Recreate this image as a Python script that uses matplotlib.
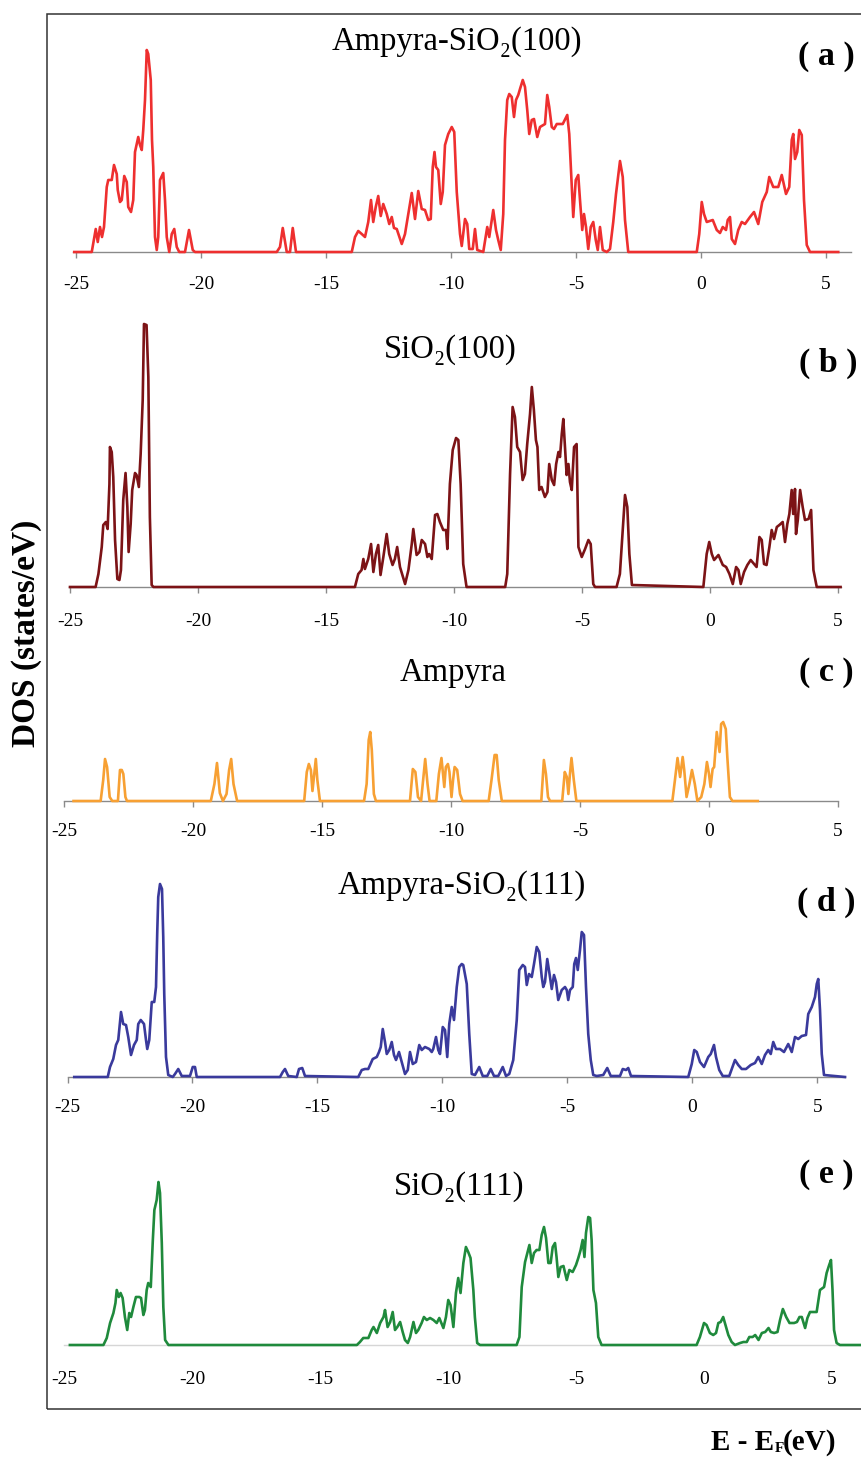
import matplotlib
matplotlib.use("Agg")
import matplotlib.pyplot as plt
from matplotlib.patches import Rectangle

plt.rcParams['font.family'] = ['Liberation Serif', 'DejaVu Serif']

# DOS values are in arbitrary units (no y scale in the original)
ticks = [-25, -20, -15, -10, -5, 0, 5]

# (a) Ampyra-SiO2(100)
e_a = [-25.07, -24.37, -24.21, -24.13, -24.04, -23.96, -23.88, -23.77, -23.71, -23.57, -23.48, -23.37,
       -23.33, -23.24, -23.17, -23.07, -22.97, -22.91, -22.80, -22.71, -22.64, -22.51, -22.44, -22.37,
       -22.31, -22.24, -22.17, -22.11, -22.01, -21.96, -21.91, -21.84, -21.77, -21.71, -21.64, -21.51,
       -21.44, -21.37, -21.27, -21.17, -21.07, -20.97, -20.87, -20.64, -20.48, -20.33, -20.24, -16.97,
       -16.84, -16.73, -16.57, -16.44, -16.33, -16.20, -13.97, -13.84, -13.71, -13.57, -13.44, -13.31,
       -13.20, -13.11, -13.01, -12.91, -12.81, -12.71, -12.57, -12.47, -12.37, -12.28, -12.17, -11.97,
       -11.84, -11.71, -11.57, -11.44, -11.31, -11.17, -11.04, -10.91, -10.81, -10.73, -10.66, -10.60,
       -10.51, -10.41, -10.33, -10.24, -10.11, -9.97, -9.87, -9.77, -9.64, -9.57, -9.44, -9.35, -9.27,
       -9.13, -9.04, -8.95, -8.71, -8.55, -8.47, -8.31, -8.20, -8.11, -8.01, -7.91, -7.84, -7.75, -7.67,
       -7.57, -7.48, -7.40, -7.31, -7.24, -7.13, -7.04, -6.95, -6.87, -6.77, -6.68, -6.60, -6.55, -6.44,
       -6.24, -6.15, -6.07, -5.97, -5.88, -5.77, -5.53, -5.35, -5.27, -5.17, -5.11, -5.01, -4.91, -4.84,
       -4.75, -4.68, -4.60, -4.51, -4.41, -4.31, -4.21, -4.13, -4.04, -3.93, -3.77, -3.64, -3.51, -3.40,
       -3.24, -3.13, -3.04, -2.91, -0.17, -0.07, 0.03, 0.12, 0.23, 0.47, 0.63, 0.76, 0.87, 1.00, 1.07,
       1.16, 1.23, 1.36, 1.49, 1.63, 1.76, 1.96, 2.12, 2.29, 2.45, 2.63, 2.73, 2.89, 3.09, 3.23, 3.40,
       3.53, 3.63, 3.69, 3.76, 3.85, 3.93, 4.03, 4.12, 4.23, 4.36, 5.49]
dos_a = [0, 0, 23, 10, 25, 15, 25, 65, 72, 72, 87, 78,
         62, 50, 52, 76, 70, 45, 40, 52, 100, 115, 107, 102,
         122, 152, 202, 198, 172, 112, 85, 15, 2, 15, 72, 79,
         52, 15, 0, 18, 23, 5, 0, 0, 22, 2, 0, 0,
         5, 24, 0, 0, 24, 0, 0, 15, 21, 18, 15, 30,
         52, 30, 45, 56, 36, 48, 38, 28, 35, 24, 23, 8,
         18, 38, 59, 33, 61, 43, 42, 32, 33, 85, 100, 85,
         82, 48, 60, 107, 118, 125, 120, 60, 18, 6, 33, 28, 3,
         3, 23, 2, 0, 25, 15, 42, 22, 12, 2, 38, 112, 152, 158,
         155, 135, 152, 157, 163, 172, 165, 142, 118, 132, 133, 122, 115, 125,
         128, 157, 145, 125, 123, 128, 128, 137, 118, 65, 35, 72, 77, 52,
         22, 38, 25, 3, 25, 30, 12, 2, 25, 2, 0, 3, 30, 58,
         91, 75, 32, 0, 0, 18, 50, 38, 30, 32, 22, 19, 25, 22, 32,
         35, 13, 8, 22, 30, 28, 35, 40, 28, 50, 60, 75, 65, 65, 77, 58,
         65, 112, 118, 93, 100, 122, 117, 52, 7, 0, 0]

# (b) SiO2(100)
e_b = [-25.0, -24.0, -23.89, -23.76, -23.70, -23.60, -23.53, -23.46, -23.44, -23.37, -23.31, -23.24,
       -23.15, -23.07, -23.01, -22.92, -22.83, -22.76, -22.71, -22.63, -22.57, -22.46, -22.40, -22.31,
       -22.24, -22.16, -22.11, -22.01, -21.94, -21.88, -21.81, -21.74, -13.87, -13.74, -13.61, -13.54,
       -13.48, -13.35, -13.24, -13.15, -13.05, -12.96, -12.87, -12.76, -12.63, -12.53, -12.40, -12.31,
       -12.22, -12.11, -11.91, -11.78, -11.65, -11.59, -11.46, -11.35, -11.26, -11.13, -11.04, -10.97,
       -10.87, -10.74, -10.65, -10.55, -10.42, -10.31, -10.26, -10.16, -10.05, -9.92, -9.83, -9.74,
       -9.64, -9.51, -8.0, -7.92, -7.81, -7.71, -7.62, -7.53, -7.42, -7.32, -7.23, -7.14, -7.03, -6.96,
       -6.88, -6.80, -6.74, -6.67, -6.58, -6.45, -6.35, -6.28, -6.18, -6.09, -6.01, -5.92, -5.86, -5.79,
       -5.73, -5.66, -5.60, -5.53, -5.47, -5.40, -5.31, -5.21, -5.14, -5.01, -4.88, -4.75, -4.66, -4.56,
       -4.49, -3.65, -3.52, -3.41, -3.32, -3.23, -3.15, -3.05, -0.26, -0.13, -0.03, 0.07, 0.16, 0.33,
       0.50, 0.63, 0.76, 0.89, 1.02, 1.11, 1.20, 1.33, 1.46, 1.59, 1.72, 1.82, 1.93, 2.02, 2.11, 2.21,
       2.32, 2.41, 2.50, 2.61, 2.71, 2.84, 2.93, 3.02, 3.10, 3.19, 3.25, 3.32, 3.36, 3.43, 3.52, 3.62,
       3.71, 3.85, 3.95, 4.04, 4.17, 5.1]
dos_b = [0, 0, 13, 40, 62, 65, 58, 103, 140, 135, 110, 47,
         8, 7, 17, 87, 114, 80, 35, 63, 97, 114, 112, 100,
         133, 187, 263, 262, 210, 70, 2, 0, 0, 13, 17, 28,
         18, 28, 43, 15, 33, 42, 12, 30, 53, 33, 22, 28,
         40, 20, 3, 17, 43, 58, 32, 35, 47, 43, 30, 33,
         28, 72, 73, 65, 57, 57, 38, 103, 137, 149, 147, 103,
         23, 0, 0, 13, 113, 180, 170, 140, 135, 107, 113, 143, 173, 200,
         177, 147, 140, 97, 100, 90, 95, 123, 107, 102, 123, 135, 130, 153,
         168, 137, 112, 123, 105, 97, 140, 143, 40, 30, 38, 47, 43, 3,
         0, 0, 13, 57, 92, 80, 33, 2, 0, 33, 45, 33, 27, 32,
         22, 20, 13, 3, 20, 17, 3, 15, 22, 27, 23, 20, 50, 47, 23, 22,
         40, 57, 48, 60, 62, 65, 45, 63, 73, 97, 73, 98, 53, 67, 97, 80,
         67, 68, 77, 17, 0, 0]

# (c) Ampyra
e_c = [-24.63, -23.58, -23.48, -23.41, -23.33, -23.23, -23.13, -22.91, -22.83, -22.76, -22.70, -22.62,
       -22.56, -19.31, -19.17, -19.07, -18.96, -18.84, -18.70, -18.60, -18.52, -18.43, -18.29, -15.69,
       -15.59, -15.51, -15.43, -15.37, -15.30, -15.24, -15.18, -15.08, -13.37, -13.27, -13.19, -13.13,
       -13.07, -12.99, -12.91, -11.59, -11.48, -11.38, -11.28, -11.16, -11.08, -11.0, -10.91, -10.83,
       -10.57, -10.47, -10.37, -10.26, -10.20, -10.12, -10.06, -9.98, -9.92, -9.86, -9.76, -9.65, -9.55,
       -8.54, -8.43, -8.31, -8.23, -8.15, -8.03, -6.50, -6.40, -6.32, -6.24, -6.16, -5.69, -5.59, -5.51,
       -5.45, -5.39, -5.33, -5.24, -5.14, -1.42, -1.32, -1.22, -1.12, -1.02, -0.96, -0.87, -0.76, -0.66,
       -0.55, -0.45, -0.30, -0.18, -0.08, 0.0, 0.06, 0.14, 0.20, 0.30, 0.41, 0.47, 0.55, 0.65, 0.71,
       0.81, 0.91, 1.89]
dos_c = [0, 0, 21, 42, 34, 4, 0, 0, 31, 31, 27, 4,
         0, 0, 17, 38, 8, 0, 7, 31, 42, 17, 0, 0,
         29, 37, 31, 10, 27, 42, 21, 0, 0, 17, 61, 69,
         51, 7, 0, 0, 32, 29, 4, 0, 21, 42, 17, 0,
         0, 27, 43, 14, 34, 37, 29, 4, 21, 34, 31, 7, 0,
         0, 21, 46, 46, 21, 0, 0, 41, 27, 4, 0, 0, 29, 24,
         7, 27, 43, 21, 0, 0, 21, 43, 24, 44, 31, 4, 17, 31,
         17, 0, 4, 17, 39, 27, 14, 32, 34, 69, 49, 77, 79, 72, 44,
         4, 0, 0]

# (d) Ampyra-SiO2(111)
e_d = [-24.73, -23.39, -23.30, -23.17, -23.06, -22.97, -22.86, -22.77, -22.66, -22.57, -22.46, -22.34,
       -22.23, -22.17, -22.07, -21.94, -21.86, -21.81, -21.73, -21.63, -21.53, -21.46, -21.41, -21.37,
       -21.30, -21.22, -21.17, -21.13, -21.06, -20.97, -20.79, -20.70, -20.57, -20.43, -20.10, -19.99,
       -19.90, -19.83, -16.5, -16.39, -16.30, -16.17, -15.83, -15.74, -15.61, -15.50, -13.37, -13.23,
       -13.10, -12.97, -12.79, -12.63, -12.54, -12.47, -12.39, -12.30, -12.23, -12.13, -12.03, -11.94,
       -11.86, -11.74, -11.63, -11.50, -11.39, -11.30, -11.19, -11.06, -10.93, -10.83, -10.70, -10.53,
       -10.43, -10.37, -10.26, -10.17, -10.10, -9.99, -9.90, -9.81, -9.73, -9.63, -9.54, -9.43, -9.33,
       -9.23, -9.17, -9.03, -8.93, -8.83, -8.70, -8.53, -8.39, -8.21, -8.07, -7.94, -7.77, -7.59, -7.46,
       -7.33, -7.17, -7.03, -6.93, -6.79, -6.70, -6.63, -6.54, -6.43, -6.34, -6.23, -6.13, -6.03, -5.97,
       -5.90, -5.81, -5.73, -5.63, -5.54, -5.46, -5.37, -5.23, -5.10, -5.03, -4.97, -4.90, -4.79, -4.73,
       -4.66, -4.59, -4.50, -4.43, -4.34, -4.26, -4.17, -4.07, -3.97, -3.83, -3.57, -3.41, -3.27, -2.90,
       -2.79, -2.66, -2.57, -2.46, -0.17, -0.03, 0.07, 0.17, 0.30, 0.46, 0.63, 0.73, 0.86, 0.94, 1.07,
       1.21, 1.47, 1.57, 1.70, 1.83, 1.97, 2.14, 2.33, 2.50, 2.63, 2.77, 2.90, 3.03, 3.13, 3.23, 3.34,
       3.50, 3.66, 3.83, 3.97, 4.10, 4.23, 4.37, 4.54, 4.63, 4.77, 4.90, 4.97, 5.03, 5.10, 5.17, 5.26,
       6.10]
dos_d = [0, 0, 10, 18, 32, 37, 65, 53, 52, 40, 22, 32,
         37, 53, 57, 53, 37, 28, 37, 75, 75, 90, 145, 180,
         193, 188, 140, 83, 20, 2, 0, 3, 8, 1, 1, 10,
         10, 0, 0, 5, 8, 1, 0, 8, 9, 1, 0, 7,
         8, 8, 18, 20, 25, 30, 48, 35, 23, 27, 35, 22,
         17, 25, 15, 3, 7, 25, 13, 15, 32, 27, 30, 28,
         25, 28, 40, 27, 23, 50, 47, 20, 53, 70, 57, 90, 110,
         113, 112, 93, 43, 3, 2, 10, 1, 1, 8, 1, 1, 10, 1,
         3, 17, 57, 107, 112, 110, 92, 103, 100, 113, 130, 125, 100, 90,
         95, 118, 105, 88, 102, 95, 77, 87, 90, 87, 77, 87, 90, 113,
         119, 107, 127, 145, 142, 90, 43, 17, 2, 1, 2, 9, 1, 1,
         8, 7, 9, 1, 0, 13, 27, 25, 15, 10, 20, 23, 32, 20, 7,
         1, 1, 8, 17, 12, 8, 8, 12, 14, 20, 13, 22, 27, 23, 35, 28,
         28, 25, 33, 25, 40, 38, 41, 42, 63, 70, 80, 93, 98, 67, 23, 2,
         0]

# (e) SiO2(111)
e_e = [-24.77, -23.46, -23.33, -23.20, -23.07, -22.99, -22.94, -22.86, -22.79, -22.71, -22.62, -22.53,
       -22.45, -22.38, -22.29, -22.19, -22.06, -21.99, -21.90, -21.84, -21.77, -21.71, -21.61, -21.53,
       -21.47, -21.38, -21.31, -21.25, -21.18, -21.12, -21.05, -20.92, -13.56, -13.44, -13.31, -13.11,
       -12.98, -12.91, -12.78, -12.65, -12.52, -12.46, -12.36, -12.26, -12.16, -12.07, -11.98, -11.87,
       -11.77, -11.68, -11.57, -11.48, -11.35, -11.25, -11.16, -11.03, -10.94, -10.83, -10.70, -10.57,
       -10.44, -10.34, -10.18, -10.08, -9.99, -9.90, -9.79, -9.69, -9.60, -9.51, -9.40, -9.30, -9.21,
       -9.12, -9.01, -8.95, -8.86, -8.75, -7.32, -7.21, -7.12, -6.99, -6.90, -6.82, -6.73, -6.64, -6.54,
       -6.43, -6.34, -6.25, -6.17, -6.08, -5.99, -5.91, -5.82, -5.76, -5.69, -5.60, -5.49, -5.36, -5.26,
       -5.13, -5.00, -4.91, -4.82, -4.74, -4.67, -4.61, -4.52, -4.45, -4.39, -4.32, -4.22, -4.13, -4.0,
       -0.29, -0.16, 0.0, 0.10, 0.23, 0.36, 0.47, 0.56, 0.65, 0.75, 0.86, 0.95, 1.08, 1.21, 1.41, 1.54,
       1.67, 1.77, 1.90, 2.00, 2.13, 2.26, 2.39, 2.52, 2.61, 2.74, 2.87, 2.97, 3.08, 3.21, 3.34, 3.52,
       3.63, 3.73, 3.82, 3.95, 4.04, 4.14, 4.40, 4.53, 4.69, 4.79, 4.89, 4.96, 5.02, 5.08, 5.18, 5.31,
       6.17]
dos_e = [0, 0, 7, 22, 32, 42, 55, 48, 52, 47, 28, 15,
         32, 28, 38, 48, 48, 47, 30, 35, 55, 62, 58, 105,
         135, 145, 163, 152, 102, 38, 5, 0, 0, 3, 7, 7,
         15, 18, 12, 22, 28, 35, 18, 23, 33, 15, 18, 23,
         13, 5, 2, 8, 23, 12, 15, 22, 28, 25, 27, 25,
         22, 27, 17, 28, 45, 40, 18, 52, 67, 52, 82, 98, 93,
         87, 55, 28, 2, 0, 0, 8, 58, 83, 92, 100, 82, 92, 95,
         95, 110, 118, 107, 82, 82, 98, 102, 88, 68, 78, 79, 65, 75,
         73, 80, 87, 95, 105, 88, 112, 128, 127, 105, 55, 42, 8, 0,
         0, 8, 22, 20, 12, 10, 12, 22, 23, 28, 18, 10, 3, 0, 2, 3,
         3, 8, 8, 10, 5, 12, 13, 17, 13, 12, 13, 25, 36, 28, 22, 22,
         23, 28, 28, 17, 27, 33, 33, 55, 58, 72, 80, 85, 55, 15, 2, 0,
         0]

titles = ['Ampyra-SiO\u2082(100)', 'SiO\u2082(100)', 'Ampyra', 'Ampyra-SiO\u2082(111)', 'SiO\u2082(111)']
tags = ['( a )', '( b )', '( c )', '( d )', '( e )']
colors = ['#ee2f2f', '#7c1316', '#f7a033', '#3a3a9c', '#1f8a3c']

W, H = 862, 1458
fig = plt.figure(figsize=(W / 100, H / 100), dpi=100)

# panel placement in pixels: zero position, px per eV, baseline, x range, title pos, tag pos, label pad
layout = [
    (701.0, 25.0, 252, (-25.1, 6.0), (457, 42), (826, 56), 13.5),
    (710.0, 25.6, 587, (-25.05, 5.1), (450, 350), (828, 363), 14.5),
    (709.0, 25.8, 801, (-25.0, 5.0), (453, 673), (826, 672), 12.0),
    (692.5, 25.0, 1077, (-25.0, 6.1), (462, 886), (826, 902), 12.0),
    (704.0, 25.6, 1345, (-25.0, 6.2), (459, 1187), (826, 1175), 19.0),
]
series = [(e_a, dos_a), (e_b, dos_b), (e_c, dos_c), (e_d, dos_d), (e_e, dos_e)]

for i, ((x0, ppe, base, (xmin, xmax), tpos, gpos, pad), (e, d)) in enumerate(zip(layout, series)):
    hpx = 280
    ax = fig.add_axes([(x0 + ppe * xmin) / W, 1 - base / H, ppe * (xmax - xmin) / W, hpx / H])
    ax.patch.set_alpha(0)
    ax.plot(e, d, color=colors[i], lw=1.9, solid_joinstyle='round', clip_on=False, zorder=3)
    ax.set_xlim(xmin, xmax)
    ax.set_ylim(0, hpx)
    for s in ['top', 'left', 'right']:
        ax.spines[s].set_visible(False)
    last = i == 4
    ax.spines['bottom'].set_color('#d6d6d6' if last else '#8a8a8a')
    ax.spines['bottom'].set_linewidth(1.0)
    ax.set_yticks([])
    ax.set_xticks(ticks)
    ax.set_xticklabels([str(t) for t in ticks])
    ax.tick_params(axis='x', direction='out', length=0 if last else 4, width=1.0,
                   color='#8a8a8a', labelsize=14, pad=pad)
    fig.text(tpos[0] / W, 1 - tpos[1] / H, titles[i], fontsize=23.5, ha='center', va='center')
    fig.text(gpos[0] / W, 1 - gpos[1] / H, tags[i], fontsize=24.5, fontweight='bold',
             ha='center', va='center')

# outer frame
fig.add_artist(Rectangle((47 / W, 1 - 1409 / H), 830 / W, 1395 / H, transform=fig.transFigure,
                         fill=False, edgecolor='#333333', lw=1.1, clip_on=False))

fig.text(27 / W, 1 - 633 / H, 'DOS (states/eV)', rotation=90, fontsize=24, fontweight='bold',
         ha='center', va='center')
# x label built from pieces so the subscript F stays small
fig.text(774 / W, 1 - 1443 / H, 'E - E', fontsize=21, fontweight='bold', ha='right', va='center')
fig.text(775 / W, 1 - 1449 / H, 'F', fontsize=11, fontweight='bold', ha='left', va='center')
fig.text(783 / W, 1 - 1443 / H, '(eV)', fontsize=21, fontweight='bold', ha='left', va='center')

fig.savefig('out.png', dpi=100)
